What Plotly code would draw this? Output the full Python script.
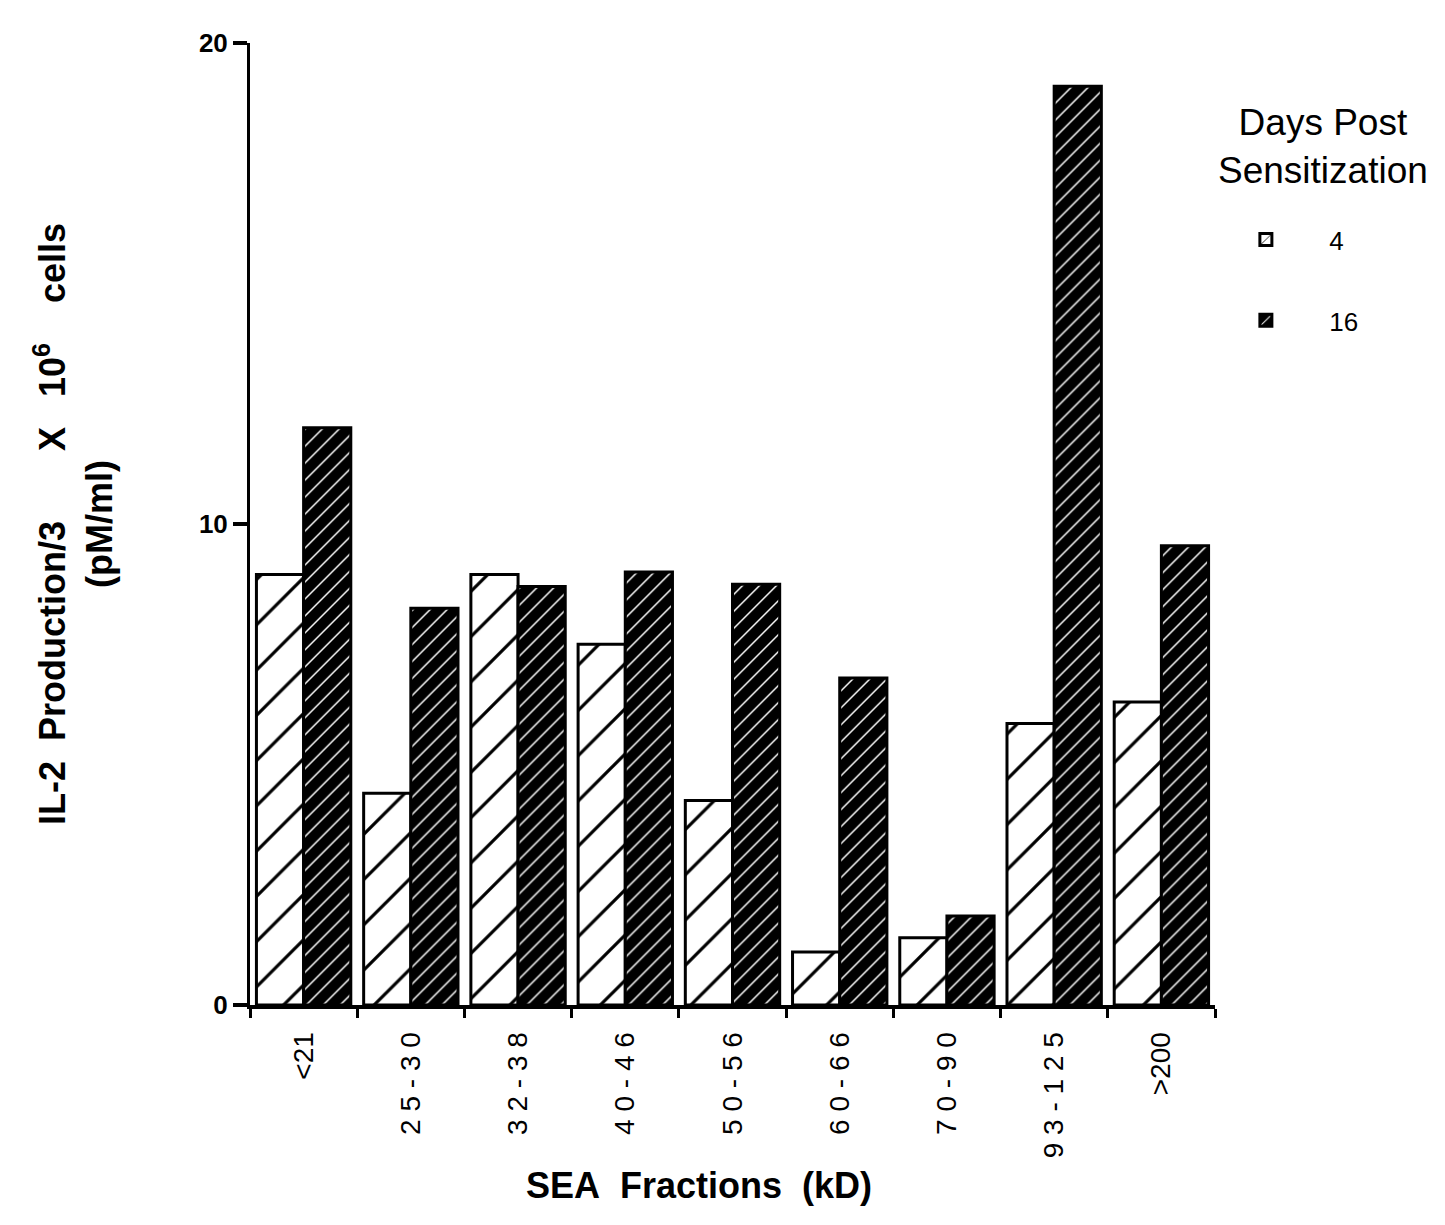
import plotly.graph_objects as go

categories = ["<21", "25-30", "32-38", "40-46", "50-56", "60-66", "70-90", "93-125", ">200"]
day4 = [8.95, 4.4, 8.95, 7.5, 4.25, 1.1, 1.4, 5.85, 6.3]
day16 = [12.0, 8.25, 8.7, 9.0, 8.75, 6.8, 1.85, 19.1, 9.55]
series_names = ["4", "16"]
y_ticks = [0, 10, 20]

NB = "\u00a0"

def spaced(label):
    if label[0] in "<>":
        return label
    return NB.join(list(label))

tick_text = [spaced(c) for c in categories]

FONT = "Liberation Sans, Arial, sans-serif"

fig = go.Figure()
fig.add_trace(go.Bar(
    x=categories, y=day4, name=NB * 6 + series_names[0], legendgroup="a",
    marker=dict(color="white", line=dict(color="black", width=3),
                pattern=dict(shape="/", bgcolor="white", fgcolor="black", fgopacity=1,
                             size=32, solidity=0.1, fillmode="replace")),
))
fig.add_trace(go.Bar(
    x=categories, y=day16, name=NB * 6 + series_names[1], legendgroup="b",
    marker=dict(color="black", line=dict(color="black", width=3),
                pattern=dict(shape="/", bgcolor="black", fgcolor="white", fgopacity=1,
                             size=12, solidity=0.12, fillmode="replace")),
))

y_title = ("<b>IL-2" + NB * 2 + "Production/3" + NB * 7 + "X" + NB * 3 + "10<sup>6</sup>"
           + NB * 4 + "cells<br>(pM/ml)</b>")

fig.update_layout(
    width=1437, height=1217,
    margin=dict(l=242, r=230, t=35, b=220),
    paper_bgcolor="white", plot_bgcolor="white",
    barmode="group", bargap=0.12, bargroupgap=0.0,
    font=dict(family=FONT, color="black"),
    showlegend=True,
    legend=dict(x=1.032, y=0.82, xanchor="left", yanchor="top",
                font=dict(size=26, family=FONT, color="black"),
                tracegroupgap=44, bgcolor="rgba(0,0,0,0)"),
    xaxis=dict(
        tickmode="array", tickvals=categories, ticktext=tick_text,
        tickangle=-90, tickfont=dict(size=28, family=FONT),
        ticks="outside", ticklen=9, tickwidth=3, tickcolor="black",
        tickson="boundaries", ticklabelstandoff=12,
        showline=True, linecolor="black", linewidth=4,
        showgrid=False, zeroline=False,
    ),
    yaxis=dict(
        range=[0, 20], tickvals=y_ticks, ticktext=["<b>%d</b>" % v for v in y_ticks],
        tickfont=dict(size=26, family=FONT),
        ticks="outside", ticklen=14, tickwidth=4, tickcolor="black",
        showline=True, linecolor="black", linewidth=3,
        showgrid=False, zeroline=False,
        title=dict(text=y_title, font=dict(size=36, family=FONT), standoff=76),
    ),
    annotations=[
        dict(text="Days Post<br>Sensitization", xref="paper", yref="paper",
             x=1.1115, y=0.892, xanchor="center", yanchor="middle", showarrow=False,
             align="center", font=dict(size=37, family=FONT, color="black")),
        dict(text="<b>SEA" + NB + " Fractions" + NB + " (kD)</b>", xref="paper", yref="paper",
             x=0.4653, y=-0.188, xanchor="center", yanchor="middle", showarrow=False,
             font=dict(size=36, family=FONT, color="black")),
    ],
)

fig.write_html("out.html")
